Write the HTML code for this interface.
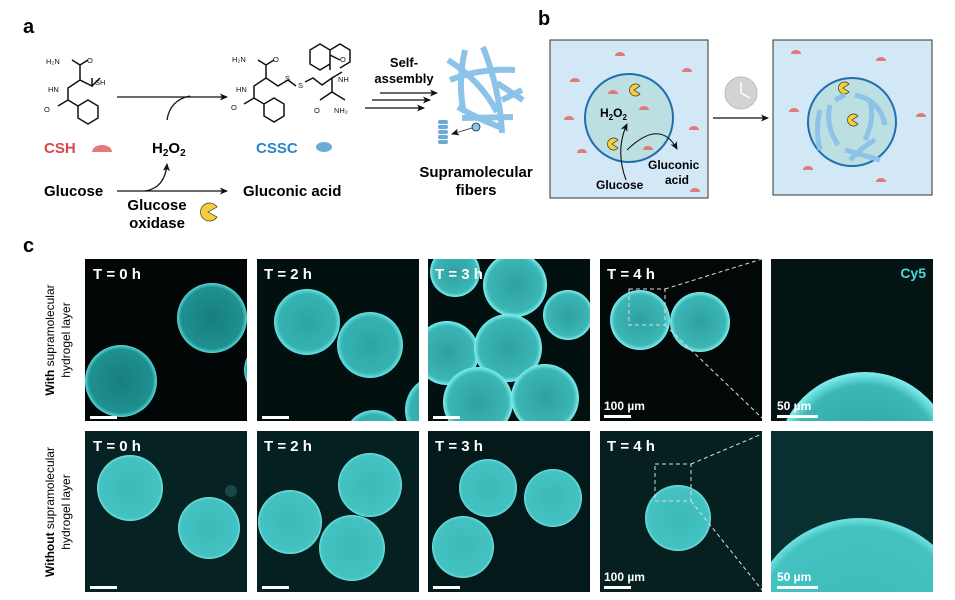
<!DOCTYPE html>
<html><head><meta charset="utf-8"><style>
html,body{margin:0;padding:0;background:#fff;width:955px;height:600px;overflow:hidden}
svg{display:block}
text{font-family:"Liberation Sans",Arial,sans-serif}
</style></head><body>
<svg width="955" height="600" viewBox="0 0 955 600" xmlns="http://www.w3.org/2000/svg">
<defs>
<marker id="ar" markerWidth="8" markerHeight="8" refX="7" refY="4" orient="auto" markerUnits="userSpaceOnUse"><path d="M0,0.5 L8,4 L0,7.5 L2,4z" fill="#111"/></marker>
<radialGradient id="g1" cx="50%" cy="50%" r="50%"><stop offset="0" stop-color="#187e7e"/><stop offset="0.88" stop-color="#1f9090"/><stop offset="1" stop-color="#55d8d8"/></radialGradient>
<radialGradient id="g2" cx="50%" cy="50%" r="50%"><stop offset="0" stop-color="#2ea4a4"/><stop offset="0.85" stop-color="#36b2b2"/><stop offset="1" stop-color="#66e2e2"/></radialGradient>
<radialGradient id="g3" cx="50%" cy="50%" r="50%"><stop offset="0" stop-color="#2ea0a0"/><stop offset="0.85" stop-color="#3cb6b6"/><stop offset="1" stop-color="#80f0f0"/></radialGradient>
<radialGradient id="g4" cx="50%" cy="50%" r="50%"><stop offset="0" stop-color="#3db8b8"/><stop offset="0.92" stop-color="#44c2c2"/><stop offset="1" stop-color="#72e2e2"/></radialGradient>
<clipPath id="c1"><rect x="85" y="259" width="162" height="162"/></clipPath>
<clipPath id="c2"><rect x="257" y="259" width="162" height="162"/></clipPath>
<clipPath id="c3"><rect x="428" y="259" width="162" height="162"/></clipPath>
<clipPath id="c4"><rect x="600" y="259" width="162" height="162"/></clipPath>
<clipPath id="c5"><rect x="771" y="259" width="162" height="162"/></clipPath>
<clipPath id="d1"><rect x="85" y="431" width="162" height="161"/></clipPath>
<clipPath id="d2"><rect x="257" y="431" width="162" height="161"/></clipPath>
<clipPath id="d3"><rect x="428" y="431" width="162" height="161"/></clipPath>
<clipPath id="d4"><rect x="600" y="431" width="162" height="161"/></clipPath>
<clipPath id="d5"><rect x="771" y="431" width="162" height="161"/></clipPath>
</defs>

<!-- Panel a -->
<text x="23" y="33" font-size="20" font-weight="bold">a</text>
<g stroke="#111" stroke-width="1.5" fill="none">
 <path d="M72,60 L80,65 L88,60 M80,65 L80,80 L92,86 L92,78 M80,80 L68,88 L68,100 L58,106 M68,100 L78,106 L78,118 L88,124 L98,118 L98,106 L88,100 L78,106"/>
 <path d="M100,78 L92,86"/>
 <path d="M258,60 L266,65 L274,60 M266,65 L266,78 L278,86 L288,80 L296,86 M266,78 L254,86 L254,98 L244,104 M254,98 L264,104 L264,116 L274,122 L284,116 L284,104 L274,98 L264,104"/>
 <path d="M305,82 L313,78 L322,85 L332,78 L332,92 L320,100 M332,78 L342,72 M332,92 L345,100"/>
 <path d="M330,70 L330,50 L320,44 L310,50 L310,64 L320,70 L330,64 M330,50 L340,44 L350,50 L350,62 L340,68"/>
 <path d="M330,55 L340,60"/>
</g>
<g font-size="7.5" fill="#111"><text x="46" y="64">H₂N</text><text x="87" y="63">O</text><text x="48" y="92">HN</text><text x="95" y="85">SH</text><text x="44" y="112">O</text>
<text x="232" y="62">H₂N</text><text x="273" y="62">O</text><text x="236" y="92">HN</text><text x="231" y="110">O</text><text x="285" y="81">S</text><text x="298" y="88">S</text><text x="338" y="82">NH</text><text x="340" y="62">O</text><text x="314" y="113">O</text><text x="334" y="113">NH₂</text></g>
<line x1="117" y1="97" x2="227" y2="97" stroke="#111" stroke-width="1.3" marker-end="url(#ar)"/>
<path d="M167,120 Q170,100 190,96" stroke="#111" stroke-width="1.3" fill="none"/>
<line x1="117" y1="191" x2="227" y2="191" stroke="#111" stroke-width="1.3" marker-end="url(#ar)"/>
<path d="M145,191 Q165,188 167,164" stroke="#111" stroke-width="1.3" fill="none" marker-end="url(#ar)"/>
<text x="44" y="153" font-size="15" font-weight="bold" fill="#d9474a">CSH</text>
<path d="M92,152 a10,7 0 0 1 20,0z" fill="#e27a7a"/>
<text x="152" y="153" font-size="15" font-weight="bold">H<tspan font-size="10" dy="3">2</tspan><tspan dy="-3">O</tspan><tspan font-size="10" dy="3">2</tspan></text>
<text x="256" y="153" font-size="15" font-weight="bold" fill="#2a86c6">CSSC</text>
<ellipse cx="324" cy="147" rx="8" ry="5" fill="#6aabd8"/>
<text x="44" y="196" font-size="15" font-weight="bold">Glucose</text>
<text x="243" y="196" font-size="15" font-weight="bold">Gluconic acid</text>
<text x="157" y="210" font-size="15" font-weight="bold" text-anchor="middle">Glucose</text>
<text x="157" y="228" font-size="15" font-weight="bold" text-anchor="middle">oxidase</text>
<path d="M208,212 L217,207 A9,9 0 1 0 217,217 Z" fill="#f5cf3a" stroke="#333" stroke-width="0.7"/>
<text x="404" y="67" font-size="13" font-weight="bold" text-anchor="middle">Self-</text>
<text x="404" y="83" font-size="13" font-weight="bold" text-anchor="middle">assembly</text>
<g stroke="#111" stroke-width="1.3"><line x1="380" y1="93" x2="437" y2="93" marker-end="url(#ar)"/><line x1="372" y1="100" x2="430" y2="100" marker-end="url(#ar)"/><line x1="365" y1="108" x2="424" y2="108" marker-end="url(#ar)"/></g>
<g stroke="#8cc3e8" stroke-width="6" stroke-linecap="butt" fill="none">
 <path d="M448,60 Q480,80 497,112"/><path d="M450,80 Q480,68 515,70"/><path d="M465,50 Q458,80 463,108"/><path d="M483,47 Q500,90 502,133"/><path d="M458,107 Q480,120 500,127"/><path d="M462,118 L513,117"/><path d="M502,100 L522,90"/><path d="M497,83 L523,100"/>
</g>
<g fill="#6aabd8"><rect x="438" y="120" width="10" height="4" rx="2"/><rect x="438" y="125" width="10" height="4" rx="2"/><rect x="438" y="130" width="10" height="4" rx="2"/><rect x="438" y="135" width="10" height="4" rx="2"/><rect x="438" y="140" width="10" height="4" rx="2"/></g>
<circle cx="476" cy="127" r="4" fill="#8cc3e8" stroke="#222" stroke-width="0.8"/>
<line x1="472" y1="128" x2="452" y2="134" stroke="#222" stroke-width="0.8" marker-end="url(#ar)"/>
<text x="476" y="177" font-size="15" font-weight="bold" text-anchor="middle">Supramolecular</text>
<text x="476" y="195" font-size="15" font-weight="bold" text-anchor="middle">fibers</text>

<!-- Panel b -->
<text x="538" y="25" font-size="20" font-weight="bold">b</text>
<rect x="550" y="40" width="158" height="158" fill="#d2e8f6" stroke="#333" stroke-width="1"/>
<circle cx="629" cy="118" r="44" fill="#bcdfe2" stroke="#1f6fb0" stroke-width="2"/>
<rect x="773" y="40" width="159" height="155" fill="#d2e8f6" stroke="#333" stroke-width="1"/>
<circle cx="852" cy="122" r="44" fill="#bcdfe2" stroke="#1f6fb0" stroke-width="2"/>
<g fill="#e07b7b">
 <path d="M615,56 a5,4 0 0 1 10,0z"/><path d="M570,82 a5,4 0 0 1 10,0z"/><path d="M682,72 a5,4 0 0 1 10,0z"/><path d="M608,94 a5,4 0 0 1 10,0z"/><path d="M639,110 a5,4 0 0 1 10,0z"/><path d="M564,120 a5,4 0 0 1 10,0z"/><path d="M689,130 a5,4 0 0 1 10,0z"/><path d="M577,153 a5,4 0 0 1 10,0z"/><path d="M643,150 a5,4 0 0 1 10,0z"/><path d="M690,192 a5,4 0 0 1 10,0z"/>
 <path d="M791,54 a5,4 0 0 1 10,0z"/><path d="M876,61 a5,4 0 0 1 10,0z"/><path d="M789,112 a5,4 0 0 1 10,0z"/><path d="M916,117 a5,4 0 0 1 10,0z"/><path d="M803,170 a5,4 0 0 1 10,0z"/><path d="M876,182 a5,4 0 0 1 10,0z"/>
</g>
<g fill="#f5cf3a" stroke="#333" stroke-width="0.7">
 <path d="M634,90 L640,86 A6,6 0 1 0 640,94 Z"/><path d="M612,144 L618,140 A6,6 0 1 0 618,148 Z"/>
 <path d="M843,88 L849,84 A6,6 0 1 0 849,92 Z"/><path d="M852,120 L858,116 A6,6 0 1 0 858,124 Z"/>
</g>
<text x="600" y="117" font-size="12" font-weight="bold">H<tspan font-size="8" dy="3">2</tspan><tspan dy="-3">O</tspan><tspan font-size="8" dy="3">2</tspan></text>
<path d="M626,180 Q615,150 627,124" stroke="#111" stroke-width="1.1" fill="none" marker-end="url(#ar)"/>
<path d="M627,150 Q660,118 677,149" stroke="#111" stroke-width="1.1" fill="none" marker-end="url(#ar)"/>
<text x="596" y="189" font-size="12" font-weight="bold">Glucose</text>
<text x="648" y="169" font-size="12" font-weight="bold">Gluconic</text>
<text x="665" y="184" font-size="12" font-weight="bold">acid</text>
<line x1="713" y1="118" x2="768" y2="118" stroke="#111" stroke-width="1.2" marker-end="url(#ar)"/>
<circle cx="741" cy="93" r="16" fill="#d3d3d3" stroke="#bbb" stroke-width="1"/>
<path d="M741,93 L741,82 M741,93 L750,98" stroke="#fff" stroke-width="1.5"/>
<g stroke="#8cc3e8" stroke-width="5" fill="none">
 <path d="M820,110 Q815,130 820,150"/><path d="M830,105 Q825,125 838,145"/><path d="M855,95 Q880,100 885,125"/><path d="M870,100 Q875,120 865,140"/><path d="M845,150 L880,160"/><path d="M850,160 Q865,145 875,140"/><path d="M835,100 L845,95"/>
</g>

<!-- Panel c -->
<text x="23" y="252" font-size="20" font-weight="bold">c</text>
<text transform="translate(54,340) rotate(-90)" font-size="12" font-weight="bold" text-anchor="middle">With <tspan font-weight="normal">supramolecular</tspan></text>
<text transform="translate(70,340) rotate(-90)" font-size="12" text-anchor="middle">hydrogel layer</text>
<text transform="translate(54,512) rotate(-90)" font-size="12" font-weight="bold" text-anchor="middle">Without <tspan font-weight="normal">supramolecular</tspan></text>
<text transform="translate(70,512) rotate(-90)" font-size="12" text-anchor="middle">hydrogel layer</text>

<rect x="85" y="259" width="162" height="162" fill="#020606"/>
<g clip-path="url(#c1)"><circle cx="121" cy="381" r="36" fill="url(#g1)"/><circle cx="212" cy="318" r="35" fill="url(#g1)"/><circle cx="272" cy="370" r="28" fill="url(#g1)"/></g>
<rect x="257" y="259" width="162" height="162" fill="#031010"/>
<g clip-path="url(#c2)"><circle cx="307" cy="322" r="33" fill="url(#g2)"/><circle cx="370" cy="345" r="33" fill="url(#g2)"/><circle cx="440" cy="410" r="35" fill="url(#g2)"/><circle cx="374" cy="440" r="30" fill="url(#g2)"/></g>
<rect x="428" y="259" width="162" height="162" fill="#031010"/>
<g clip-path="url(#c3)"><circle cx="455" cy="272" r="25" fill="url(#g3)"/><circle cx="515" cy="285" r="32" fill="url(#g3)"/><circle cx="568" cy="315" r="25" fill="url(#g3)"/><circle cx="447" cy="353" r="32" fill="url(#g3)"/><circle cx="508" cy="348" r="34" fill="url(#g3)"/><circle cx="478" cy="402" r="35" fill="url(#g3)"/><circle cx="545" cy="398" r="34" fill="url(#g3)"/></g>
<rect x="600" y="259" width="162" height="162" fill="#020808"/>
<g clip-path="url(#c4)"><circle cx="640" cy="320" r="30" fill="url(#g3)"/><circle cx="700" cy="322" r="30" fill="url(#g3)"/></g>
<rect x="771" y="259" width="162" height="162" fill="#041414"/>
<g clip-path="url(#c5)"><circle cx="865" cy="460" r="88" fill="url(#g3)"/></g>

<rect x="85" y="431" width="162" height="161" fill="#062222"/>
<g clip-path="url(#d1)"><circle cx="130" cy="488" r="33" fill="url(#g4)"/><circle cx="209" cy="528" r="31" fill="url(#g4)"/><circle cx="231" cy="491" r="6" fill="#164848"/></g>
<rect x="257" y="431" width="162" height="161" fill="#052020"/>
<g clip-path="url(#d2)"><circle cx="290" cy="522" r="32" fill="url(#g4)"/><circle cx="370" cy="485" r="32" fill="url(#g4)"/><circle cx="352" cy="548" r="33" fill="url(#g4)"/></g>
<rect x="428" y="431" width="162" height="161" fill="#041a1a"/>
<g clip-path="url(#d3)"><circle cx="488" cy="488" r="29" fill="url(#g4)"/><circle cx="553" cy="498" r="29" fill="url(#g4)"/><circle cx="463" cy="547" r="31" fill="url(#g4)"/></g>
<rect x="600" y="431" width="162" height="161" fill="#062020"/>
<g clip-path="url(#d4)"><circle cx="678" cy="518" r="33" fill="url(#g4)"/></g>
<rect x="771" y="431" width="162" height="161" fill="#083030"/>
<g clip-path="url(#d5)"><circle cx="860" cy="630" r="112" fill="url(#g4)"/></g>

<g stroke="#ddd" stroke-width="1" stroke-dasharray="4,3" fill="none">
<rect x="629" y="289" width="36" height="36"/><line x1="665" y1="289" x2="762" y2="259"/><line x1="665" y1="325" x2="762" y2="418"/>
<rect x="655" y="464" width="36" height="37"/><line x1="691" y1="464" x2="762" y2="434"/><line x1="691" y1="501" x2="762" y2="590"/>
</g>

<g font-size="15" font-weight="bold" fill="#fff">
<text x="93" y="279">T = 0 h</text><text x="264" y="279">T = 2 h</text><text x="435" y="279">T = 3 h</text><text x="607" y="279">T = 4 h</text>
<text x="93" y="451">T = 0 h</text><text x="264" y="451">T = 2 h</text><text x="435" y="451">T = 3 h</text><text x="607" y="451">T = 4 h</text>
<text x="604" y="410" font-size="12">100 µm</text><text x="604" y="581" font-size="12">100 µm</text>
<text x="777" y="410" font-size="12">50 µm</text><text x="777" y="581" font-size="12">50 µm</text>
</g>
<text x="926" y="278" font-size="14" font-weight="bold" fill="#4fd6d6" text-anchor="end">Cy5</text>
<g fill="#fff">
<rect x="90" y="416" width="27" height="3"/><rect x="262" y="416" width="27" height="3"/><rect x="433" y="416" width="27" height="3"/><rect x="604" y="415" width="27" height="3"/><rect x="777" y="415" width="41" height="3"/>
<rect x="90" y="586" width="27" height="3"/><rect x="262" y="586" width="27" height="3"/><rect x="433" y="586" width="27" height="3"/><rect x="604" y="586" width="27" height="3"/><rect x="777" y="586" width="41" height="3"/>
</g>
</svg>
</body></html>
